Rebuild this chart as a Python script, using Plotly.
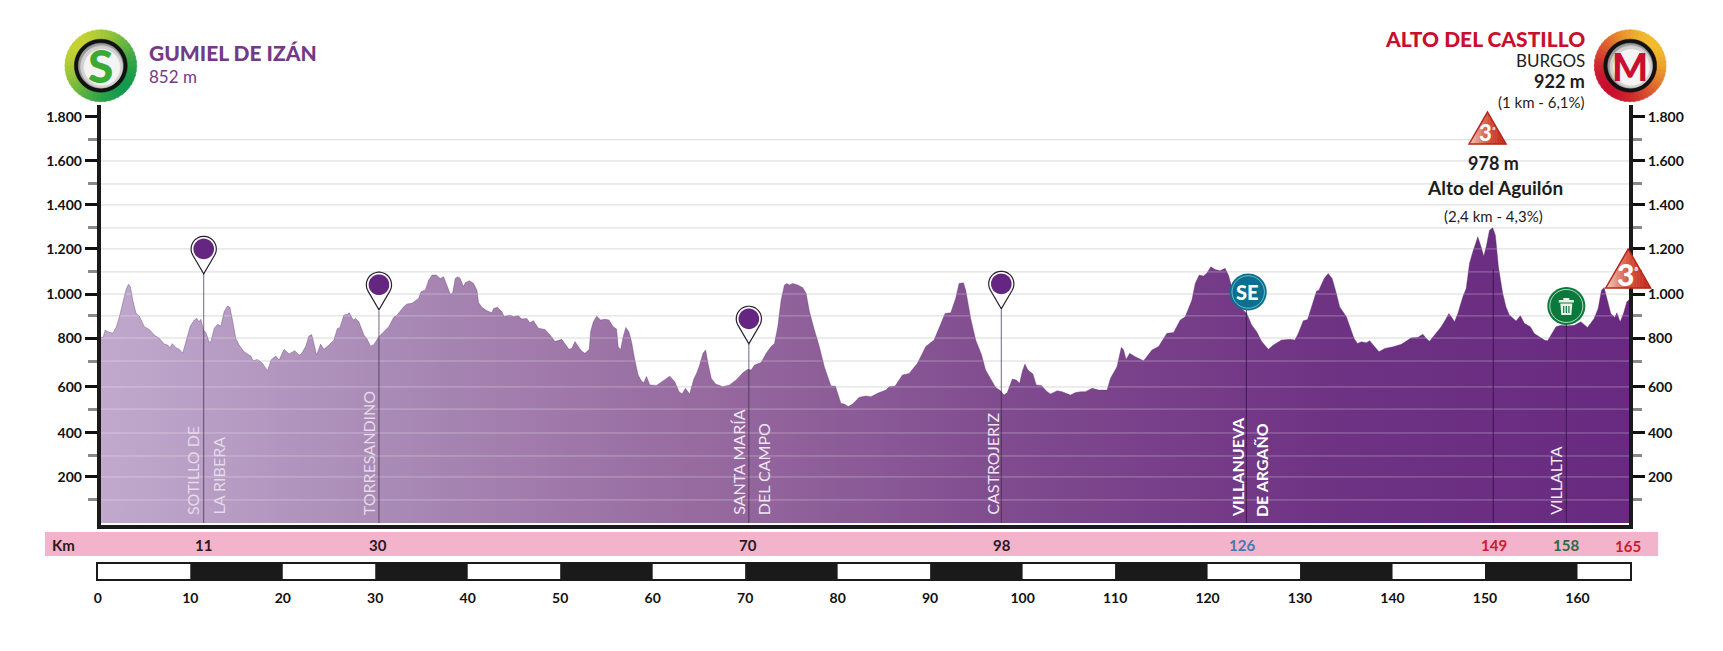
"""Stage profile: Gumiel de Izan - Alto del Castillo, drawn with plotly"""

import math

import numpy as np
import plotly.graph_objects as go

# the page keeps its 8px body margin, so the figure is that much smaller
PAGE_MARGIN = 8
W, H = 1723 - 2 * PAGE_MARGIN, 651 - 2 * PAGE_MARGIN
TEXT_FONT = "Lato"
HEAVY = "Lato Black, Lato"

# profile, km and metres as drawn on the chart's scale
profile_km = [
    0.32, 0.58, 0.79, 1.08, 1.62, 1.98, 2.34, 2.70, 3.06, 3.31, 3.52, 3.78, 4.14, 4.49, 5.03, 5.57, 6.11, 6.65, 7.19,
    7.55, 7.80, 8.05, 8.45, 8.81, 9.17, 9.53, 10.0, 10.43, 10.72, 10.93, 11.15, 11.43, 11.69, 12.05, 12.23, 12.59,
    12.95, 13.3, 13.66, 14.02, 14.28, 14.56, 14.92, 15.28, 15.82, 16.54, 16.79, 17.26, 17.8, 18.34, 18.77, 19.24,
    19.6, 20.14, 20.68, 21.29, 21.75, 22.0, 22.47, 22.83, 23.12, 23.37, 23.66, 24.09, 24.45, 24.99, 25.53, 25.89,
    26.18, 26.61, 26.97, 27.18, 27.62, 27.87, 28.23, 28.77, 29.13, 29.49, 29.84, 30.38, 30.92, 31.46, 32.0, 32.36,
    33.08, 33.44, 33.98, 34.7, 34.95, 35.42, 35.78, 36.14, 36.6, 37.03, 37.39, 37.75, 38.11, 38.36, 38.65, 38.94,
    39.19, 39.55, 39.73, 40.2, 40.63, 40.99, 41.17, 41.53, 42.07, 42.61, 42.79, 43.22, 43.69, 43.94, 44.59, 44.95,
    45.48, 45.84, 46.38, 46.74, 47.1, 47.64, 48.36, 48.9, 49.44, 50.16, 50.52, 50.95, 51.24, 51.6, 51.96, 52.32,
    52.68, 53.14, 53.29, 53.58, 53.94, 54.37, 54.83, 55.27, 55.73, 56.09, 56.27, 56.52, 56.81, 57.1, 57.42, 57.71,
    58.07, 58.43, 58.79, 59.04, 59.33, 59.69, 60.41, 61.13, 61.85, 62.39, 62.85, 63.18, 63.54, 64.0, 64.47, 64.72,
    65.08, 65.44, 65.73, 65.98, 66.34, 66.81, 67.6, 68.32, 69.03, 69.75, 70.29, 70.65, 71.01, 71.73, 72.27, 72.81,
    73.17, 73.53, 73.89, 74.25, 74.5, 74.79, 75.15, 75.69, 76.23, 76.59, 76.95, 77.49, 78.02, 78.56, 79.28, 79.75,
    80.36, 80.72, 81.15, 81.62, 82.34, 83.06, 83.6, 84.32, 85.21, 85.58, 86.22, 87.01, 87.73, 88.63, 89.53, 90.43,
    90.97, 91.62, 92.23, 92.77, 93.13, 93.6, 93.85, 94.39, 94.93, 95.57, 96.0, 96.54, 97.09, 97.63, 97.99, 98.35,
    98.89, 99.32, 99.68, 99.97, 100.25, 100.58, 101.12, 101.48, 102.02, 102.66, 103.02, 103.74, 104.28, 105.18,
    105.72, 106.26, 106.8, 107.52, 108.24, 109.14, 109.5, 110.21, 110.47, 110.68, 110.93, 111.19, 111.58, 112.19,
    113.09, 113.99, 114.71, 114.96, 115.61, 116.33, 117.05, 117.59, 118.31, 118.67, 119.1, 119.56, 119.92, 120.36,
    120.82, 121.36, 121.9, 122.26, 122.8, 123.52, 124.24, 124.78, 125.32, 125.86, 126.58, 127.12, 128.01, 128.91,
    129.45, 129.81, 130.35, 130.82, 131.25, 131.79, 132.04, 132.61, 133.05, 133.48, 133.84, 134.3, 135.02, 135.38,
    135.85, 136.21, 136.64, 137.18, 137.54, 138.08, 138.55, 139.16, 140.06, 140.96, 141.32, 142.04, 142.75, 143.29,
    143.65, 144.01, 144.55, 145.27, 145.81, 146.1, 146.42, 146.71, 147.07, 147.61, 147.97, 148.33, 148.69, 149.23,
    149.59, 149.87, 150.13, 150.49, 150.84, 151.13, 151.46, 151.92, 152.28, 152.64, 153.36, 153.83, 154.26, 154.91,
    155.34, 155.88, 156.42, 156.78, 157.32, 157.68, 158.22, 158.94, 159.65, 160.37, 161.09, 161.81, 162.24, 162.6,
    162.89, 163.25, 163.61, 164.04, 164.26, 164.62, 164.98, 165.34, 165.6,
]
profile_m = [
    823, 823, 855, 848, 841, 867, 915, 981, 1036, 1058, 1047, 988, 929, 917, 870, 858, 833, 818, 793,
    789, 777, 795, 777, 770, 752, 804, 873, 900, 907, 892, 903, 855, 844, 801, 804, 863,
    881, 873, 937, 962, 956, 900, 818, 789, 759, 740, 719, 725, 708, 675, 725, 740,
    722, 770, 749, 764, 745, 749, 782, 829, 835, 796, 745, 793, 770, 789, 811, 861,
    867, 922, 925, 932, 900, 907, 892, 833, 814, 784, 790, 826, 848, 870, 912, 922,
    959, 971, 974, 996, 1025, 1033, 1077, 1099, 1099, 1084, 1092, 1055, 1015, 1018, 1084, 1092,
    1084, 1047, 1065, 1074, 1062, 1033, 977, 956, 941, 932, 951, 956, 937, 914, 922, 914,
    919, 904, 907, 888, 897, 863, 858, 833, 804, 814, 796, 770, 774, 804, 782, 762,
    752, 770, 848, 892, 917, 900, 903, 900, 870, 860, 782, 767, 826, 867, 848, 804,
    722, 656, 629, 622, 649, 612, 610, 631, 651, 626, 582, 572, 597, 572, 641, 660,
    700, 752, 767, 708, 641, 616, 604, 612, 634, 666, 681, 678, 700, 711, 752, 782,
    796, 870, 988, 1055, 1062, 1055, 1062, 1055, 1043, 1018, 937, 855, 782, 693, 607, 607,
    530, 527, 516, 527, 557, 563, 560, 575, 589, 604, 607, 656, 663, 708, 782, 811,
    863, 929, 932, 996, 1062, 1065, 1033, 907, 811, 745, 678, 641, 601, 586, 567, 578,
    638, 634, 619, 671, 705, 678, 660, 612, 610, 582, 572, 586, 582, 567,
    578, 582, 582, 597, 589, 589, 641, 693, 737, 779, 767, 725, 752, 737,
    719, 767, 782, 799, 841, 844, 900, 914, 988, 1062, 1099, 1095, 1107, 1136,
    1124, 1118, 1129, 1099, 1018, 959, 929, 878, 848, 804, 770, 789, 811, 814,
    811, 840, 896, 902, 958, 1028, 1032, 1084, 1106, 1084, 1032, 958, 914, 870,
    818, 796, 803, 799, 808, 781, 759, 774, 781, 792, 803, 821, 823, 837,
    818, 806, 833, 870, 907, 929, 911, 892, 929, 1003, 1040, 1151, 1202, 1269,
    1224, 1183, 1224, 1298, 1309, 1276, 1136, 1018, 958, 922, 895, 919, 885, 870,
    840, 826, 811, 808, 848, 870, 877, 874, 877, 892, 867, 907, 951, 1032,
    1044, 988, 929, 911, 932, 892, 929, 981, 990,
]

major_vals = [1800, 1605, 1410, 1215, 1015, 820, 603, 399, 204]
major_text = ["1.800", "1.600", "1.400", "1.200", "1.000", "800", "600", "400", "200"]
minor_vals = [1699, 1503, 1308, 1113, 918, 718, 505, 297, 102]

# villages and their vertical markers
pin_km = [11.45, 30.4, 70.4, 97.7]
pin_m = [1215, 1056, 905, 1060]
pin_tip_m = [1108, 940, 795, 945]
mark_km = [124.2, 150.9, 158.8]
mark_top_m = [1040, 1125, 960]

band_km = [11, 30, 70, 98, 126, 149, 158, 165]
band_color = ["#2a1a20", "#2a1a20", "#2a1a20", "#2a1a20", "#4a78b0", "#c8202e", "#2f6a40", "#c8202e"]
band_px = [200, 375, 746, 1000, 1241, 1493, 1566, 1628]

scale_ticks = list(range(0, 170, 10))
scale_black_km = [15, 35, 55, 75, 95, 115, 135, 155]


def fx(px):
    return (px - PAGE_MARGIN) / W


def fy(py):
    return 1 - (py - PAGE_MARGIN) / H


def hex_mix(a, b, t):
    ca = [int(a[i:i + 2], 16) for i in (1, 3, 5)]
    cb = [int(b[i:i + 2], 16) for i in (1, 3, 5)]
    return "rgb(%d,%d,%d)" % tuple(round(p + (q - p) * t) for p, q in zip(ca, cb))


def poly(points):
    return "M " + " L ".join(f"{x:.5f},{y:.5f}" for x, y in points) + " Z"


shapes = []
notes = []


def paper_shape(points, color, line=None, width=0):
    shapes.append(dict(
        type="path", xref="paper", yref="paper", layer="above",
        path=poly([(fx(x), fy(y)) for x, y in points]), fillcolor=color,
        line=dict(color=line or color, width=width if line else 0.5),
    ))


def pixel_shape(km, m, points, color, line=None, width=0):
    shapes.append(dict(
        type="path", xref="x", yref="y", layer="above", xsizemode="pixel", ysizemode="pixel",
        xanchor=km, yanchor=m, path=poly(points), fillcolor=color,
        line=dict(color=line or color, width=width),
    ))


def circle_pts(cx, cy, r, n=48):
    return [(cx + r * math.cos(2 * math.pi * i / n), cy + r * math.sin(2 * math.pi * i / n)) for i in range(n)]


def note(text, px, py, size, color="#1d1d1b", anchor="center", angle=0, font=TEXT_FONT, yanchor="middle"):
    notes.append(dict(
        text=text, x=fx(px), y=fy(py), xref="paper", yref="paper", showarrow=False, xanchor=anchor,
        yanchor=yanchor, textangle=angle, font=dict(size=size, color=color, family=font),
        borderpad=0,
    ))


def round_badge(cx, cy, c1, c2, direction):
    # outer ring with a fade from c1 to c2, cut in wedges
    R, n = 36, 48
    for i in range(n):
        a0, a1 = 2 * math.pi * i / n, 2 * math.pi * (i + 1.2) / n
        mid = (a0 + a1) / 2
        t = (math.cos(mid - direction) + 1) / 2
        paper_shape([(cx, cy), (cx + R * math.cos(a0), cy + R * math.sin(a0)),
                     (cx + R * math.cos(a1), cy + R * math.sin(a1))], hex_mix(c1, c2, t))
    paper_shape(circle_pts(cx, cy, 26.5), "#111111")
    paper_shape(circle_pts(cx, cy, 22.5), "#9c9c9c")
    paper_shape(circle_pts(cx + 0.8, cy + 1, 21), "#d2d2d2")
    paper_shape(circle_pts(cx + 1.2, cy + 1.6, 18), "#f4f4f4")


def cat_triangle(cx, top, bottom, half, digit_size, sup_size):
    n = 16
    for i in range(n):
        x0 = cx - half + 2 * half * i / n
        x1 = cx - half + 2 * half * (i + 1) / n
        y0 = top + (bottom - top) * abs(x0 - cx) / half
        y1 = top + (bottom - top) * abs(x1 - cx) / half
        t = (i + 0.5) / n
        col = hex_mix("#f2cfc2", "#d8553f", t * 2) if t < 0.5 else hex_mix("#d8553f", "#bf2519", t * 2 - 1)
        paper_shape([(x0, y0), (x0, bottom), (x1, bottom), (x1, y1)], col)
    paper_shape([(cx, top), (cx + half, bottom), (cx - half, bottom)], "rgba(0,0,0,0)", "#b32a1d", 1.5)
    midy = top + (bottom - top) * 0.63
    note("<b>3</b>", cx - half * 0.1, midy, digit_size, "#ffffff", font=HEAVY)
    note("<b>ª</b>", cx + half * 0.36, midy - 2, sup_size, "#ffffff")


fig = go.Figure()

# grid sits behind the profile, there is no line at the 1.800 mark
grid_vals = sorted(v for v in major_vals + minor_vals if v < 1800)
for level in grid_vals:
    fig.add_trace(go.Scatter(x=[0.32, 165.6], y=[level, level], mode="lines", line=dict(color="#d9d9d9", width=1),
                             hoverinfo="skip", showlegend=False))

# profile with its left to right fade
fig.add_trace(go.Scatter(
    x=profile_km, y=profile_m, mode="lines", line=dict(width=0.6, color="rgba(90,50,110,0.6)"),
    fill="tozeroy",
    fillgradient=dict(type="horizontal", colorscale=[
        [0, "#c0a9cd"], [0.2, "#a888b4"], [0.4, "#96699f"], [0.6, "#7f4a8e"], [0.8, "#6f3384"], [1, "#672a80"],
    ]),
    hoverinfo="skip", showlegend=False,
))

# the grid shows through the profile as a pale line
dense_km = np.linspace(profile_km[0], profile_km[-1], 3000)
dense_m = np.interp(dense_km, profile_km, profile_m)
for level in grid_vals:
    fig.add_trace(go.Scatter(
        x=dense_km, y=np.where(dense_m >= level, level, np.nan), mode="lines",
        line=dict(color="rgba(255,255,255,0.32)", width=1), hoverinfo="skip", showlegend=False,
    ))

# vertical markers
for km, tip in zip(pin_km, pin_tip_m):
    fig.add_trace(go.Scatter(x=[km, km], y=[0, tip], mode="lines", line=dict(color="rgba(60,40,70,0.7)", width=1),
                             hoverinfo="skip", showlegend=False))
for km, top in zip(mark_km, mark_top_m):
    fig.add_trace(go.Scatter(x=[km, km], y=[0, top], mode="lines", line=dict(color="rgba(50,15,70,0.8)", width=1),
                             hoverinfo="skip", showlegend=False))

# right hand axis needs a trace of its own
fig.add_trace(go.Scatter(x=[profile_km[0]], y=[0], yaxis="y2", mode="markers", marker=dict(opacity=0),
                         hoverinfo="skip", showlegend=False))

# distance scale
fig.add_trace(go.Bar(x=scale_black_km, y=[1] * len(scale_black_km), width=10, xaxis="x2", yaxis="y3",
                     marker=dict(color="#1a1a1a", line=dict(width=0)), hoverinfo="skip", showlegend=False))

# pins
for km, m, tip in zip(pin_km, pin_m, pin_tip_m):
    drop = [(12.6 * math.cos(a), 12.6 * math.sin(a)) for a in np.linspace(-0.55, math.pi + 0.55, 30)]
    drop.append((0, -25))
    pixel_shape(km, m, drop, "#ffffff", "#2a2030", 1.2)
    pixel_shape(km, m, circle_pts(0, 0, 10.3), "#652682")

# km band
shapes.append(dict(type="rect", xref="paper", yref="paper", layer="below", x0=fx(41), x1=fx(1658), y0=fy(556), y1=fy(532),
                   fillcolor="#f2b3cb", line=dict(width=0)))
note("<b>Km</b>", 60, 545, 15, "#2a1a20")
for km, col, px in zip(band_km, band_color, band_px):
    py = 546 if km == 165 else 544.5
    note(f"<b>{km}</b>", px, py, 15, col)

# rotated village names
note("SOTILLO DE", 189, 516, 16, "#e4dae9", angle=-90, yanchor="bottom")
note("LA RIBERA", 214, 516, 16, "#e4dae9", angle=-90, yanchor="bottom")
note("TORRESANDINO", 365, 516, 16, "#e4dae9", angle=-90, yanchor="bottom")
note("SANTA MARÍA", 736, 516, 16, "#eee6f1", angle=-90, yanchor="bottom")
note("DEL CAMPO", 761, 516, 16, "#eee6f1", angle=-90, yanchor="bottom")
note("CASTROJERIZ", 990, 516, 16, "#eee6f1", angle=-90, yanchor="bottom")
note("<b>VILLANUEVA</b>", 1236, 518, 16, "#ffffff", angle=-90, yanchor="bottom")
note("<b>DE ARGAÑO</b>", 1260, 518, 16, "#ffffff", angle=-90, yanchor="bottom")
note("VILLALTA", 1555, 516, 16, "#f4eef6", angle=-90, yanchor="bottom")

# start
round_badge(97, 65.7, "#c5d233", "#149a4c", math.pi / 4)
note("<b>S</b>", 97, 66, 46, "#3aaa35", font=HEAVY)
note("<b>GUMIEL DE IZÁN</b>", 144, 53, 21, "#743a86", anchor="left", font=HEAVY)
note("852 m", 144, 77, 17, "#743a86", anchor="left")

# finish
round_badge(1630, 65.7, "#f2bb2e", "#c8102e", 3 * math.pi / 4)
note("<b>M</b>", 1630, 66, 38, "#c8102e", font=HEAVY)
note("<b>ALTO DEL CASTILLO</b>", 1586, 39, 21, "#c8102e", anchor="right", font=HEAVY)
note("BURGOS", 1586, 61, 17, "#1d1d1b", anchor="right")
note("<b>922 m</b>", 1586, 81, 18, "#1d1d1b", anchor="right")
note("(1 km - 6,1%)", 1586, 102, 15, "#1d1d1b", anchor="right")

# climb
cat_triangle(1487, 112, 144, 18.5, 22, 10)
note("<b>978 m</b>", 1493, 163, 18, "#1d1d1b")
note("<b>Alto del Aguilón</b>", 1494, 187, 19, "#1d1d1b")
note("(2,4 km - 4,3%)", 1493, 216, 15, "#1d1d1b")
cat_triangle(1628, 249, 288, 22.5, 30, 12)

# sprint badge
se_km, se_m = 124.4, 1024
pixel_shape(se_km, se_m, circle_pts(0, 0, 18.5), "#0b6f90")
pixel_shape(se_km, se_m, circle_pts(0, 0, 16.2), "rgba(0,0,0,0)", "#7fd0dd", 0.8)
note("<b>SE</b>", 1246, 292, 20, "#ffffff", font=HEAVY)

# feed zone badge
bin_km, bin_m = 158.8, 962
pixel_shape(bin_km, bin_m, circle_pts(0, 0, 19), "#0a7a3c")
pixel_shape(bin_km, bin_m, circle_pts(0, 0, 16.5), "rgba(0,0,0,0)", "#e8f4ea", 0.8)
pixel_shape(bin_km, bin_m, [(-7.5, 6), (7.5, 6), (7.5, 3.5), (-7.5, 3.5)], "#e8f4ea")
pixel_shape(bin_km, bin_m, [(-3, 8), (3, 8), (3, 6), (-3, 6)], "#e8f4ea")
pixel_shape(bin_km, bin_m, [(-6, 2.5), (6, 2.5), (5, -9), (-5, -9)], "#e8f4ea")
for dx in (-2.6, 0, 2.6):
    pixel_shape(bin_km, bin_m, [(dx - 0.6, 0), (dx + 0.6, 0), (dx + 0.6, -7), (dx - 0.6, -7)], "#0a7a3c")

tick_font = dict(family=TEXT_FONT, size=14, color="#111111", weight="bold")
fig.update_layout(
    width=W, height=H, margin=dict(l=0, r=0, t=0, b=0),
    paper_bgcolor="white", plot_bgcolor="white", showlegend=False, barmode="overlay",
    font=dict(family=TEXT_FONT), shapes=shapes, annotations=notes,
    xaxis=dict(domain=[fx(97), fx(1629)], range=[0.32, 165.6], showgrid=False, zeroline=False, ticks="",
               showticklabels=False, anchor="y", showline=True, linecolor="#1a1a1a", linewidth=4),
    yaxis=dict(
        domain=[fy(525), fy(105)], range=[-9, 1853], zeroline=False, side="left", tickmode="array",
        tickvals=major_vals, ticktext=major_text, tickfont=tick_font, ticks="outside", ticklen=12, tickwidth=2.8,
        tickcolor="#111111", showgrid=False, showline=True, linecolor="#1a1a1a", linewidth=4,
        minor=dict(tickmode="array", tickvals=minor_vals, ticks="outside", ticklen=9, tickwidth=3, tickcolor="#8a8a8a",
                   showgrid=False),
    ),
    yaxis2=dict(
        domain=[fy(525), fy(105)], range=[-9, 1853], overlaying="y", side="right", anchor="x", zeroline=False,
        showgrid=False, tickmode="array", tickvals=major_vals, ticktext=major_text, tickfont=tick_font,
        ticks="outside", ticklen=12, tickwidth=2.8, tickcolor="#111111", showline=True, linecolor="#1a1a1a", linewidth=4,
        minor=dict(tickmode="array", tickvals=minor_vals, ticks="outside", ticklen=9, tickwidth=3, tickcolor="#8a8a8a"),
    ),
    xaxis2=dict(
        domain=[fx(94), fx(1630)], range=[0, 165.7], anchor="y3", tickmode="array", tickvals=scale_ticks,
        ticktext=[str(t) for t in scale_ticks], tickfont=dict(family=TEXT_FONT, size=14, color="#111111", weight="bold"),
        ticks="outside", ticklen=5, tickcolor="rgba(0,0,0,0)", showgrid=False, zeroline=False, showline=True,
        linecolor="#1a1a1a", linewidth=1.5, mirror=True,
    ),
    yaxis3=dict(domain=[fy(579), fy(564)], range=[0, 1], anchor="x2", showticklabels=False, ticks="", showgrid=False,
                zeroline=False, showline=True, linecolor="#1a1a1a", linewidth=1.5, mirror=True),
)

fig.write_html("out.html")
